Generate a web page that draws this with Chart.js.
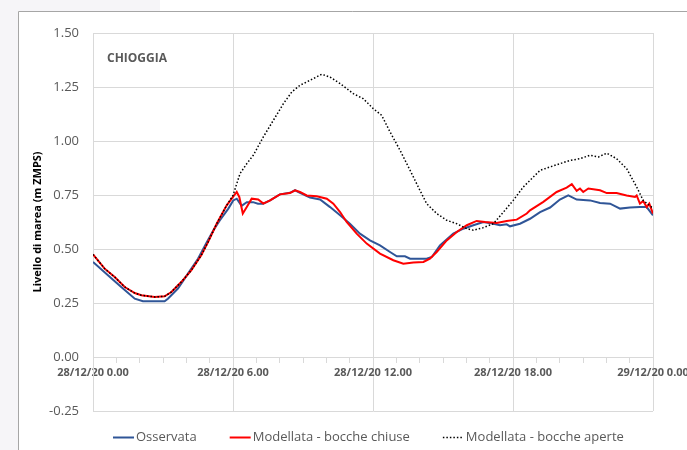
<!DOCTYPE html>
<html>
<head>
<meta charset="utf-8">
<script src="https://cdn.jsdelivr.net/npm/chart.js@4/dist/chart.umd.min.js"></script>
<style>
  html, body { margin: 0; padding: 0; background: #fff; }
  #wrap { width: 687px; height: 450px; position: relative; }
</style>
</head>
<body>
<div id="wrap"><canvas id="c" width="687" height="450"></canvas></div>
<script>
// etichette asse x (ore dall'inizio del 28/12/20)
const xLabels = { 0: '28/12/20 0.00', 6: '28/12/20 6.00', 12: '28/12/20 12.00', 18: '28/12/20 18.00', 24: '29/12/20 0.00' };
const yTicks = [-0.25, 0, 0.25, 0.5, 0.75, 1.0, 1.25, 1.5];

// Osservata
const obsHours = [0, 0.64, 1.21, 1.79, 2.14, 3.07, 3.21, 3.64, 4.07, 4.5, 4.86, 5.16, 5.44, 5.8, 6.01, 6.16, 6.37, 6.59, 6.86, 7.07, 7.29, 7.59, 8.01, 8.44, 8.66, 8.87, 9.3, 9.73, 10.16, 10.59, 11.01, 11.44, 11.87, 12.3, 12.73, 13.02, 13.37, 13.59, 14.3, 14.52, 14.87, 15.44, 15.87, 16.3, 16.73, 17.16, 17.44, 17.73, 17.87, 18.3, 18.73, 19.16, 19.59, 20.01, 20.37, 20.73, 21.3, 21.73, 22.16, 22.59, 23.01, 23.44, 23.73, 24];
const obsVals = [0.44, 0.378, 0.324, 0.27, 0.258, 0.258, 0.27, 0.317, 0.386, 0.455, 0.528, 0.587, 0.633, 0.687, 0.725, 0.733, 0.70, 0.717, 0.717, 0.71, 0.71, 0.725, 0.753, 0.76, 0.772, 0.76, 0.738, 0.729, 0.694, 0.656, 0.617, 0.571, 0.54, 0.517, 0.486, 0.466, 0.466, 0.455, 0.455, 0.463, 0.517, 0.571, 0.594, 0.61, 0.625, 0.617, 0.61, 0.614, 0.605, 0.617, 0.64, 0.671, 0.692, 0.729, 0.748, 0.729, 0.725, 0.713, 0.71, 0.687, 0.692, 0.694, 0.694, 0.656];

// Modellata - bocche chiuse
const closedHours = [0, 0.5, 0.93, 1.36, 1.79, 2.07, 2.64, 3.07, 3.36, 3.78, 4.21, 4.64, 4.93, 5.3, 5.73, 6.16, 6.27, 6.42, 6.59, 6.8, 7.08, 7.3, 7.59, 8.01, 8.44, 8.66, 8.87, 9.16, 9.59, 10.02, 10.3, 10.59, 10.87, 11.3, 11.73, 12.3, 12.87, 13.3, 13.73, 14.16, 14.44, 14.73, 15.16, 15.59, 16.02, 16.44, 16.8, 17.3, 17.73, 18.16, 18.59, 18.73, 19.3, 19.87, 20.3, 20.52, 20.73, 20.87, 21.01, 21.23, 21.73, 22.02, 22.44, 22.87, 23.23, 23.3, 23.44, 23.58, 23.73, 23.84, 24];
const closedVals = [0.475, 0.409, 0.37, 0.324, 0.296, 0.286, 0.278, 0.281, 0.301, 0.347, 0.401, 0.471, 0.532, 0.617, 0.702, 0.764, 0.741, 0.664, 0.694, 0.733, 0.729, 0.71, 0.725, 0.753, 0.759, 0.772, 0.764, 0.748, 0.744, 0.733, 0.71, 0.671, 0.625, 0.571, 0.525, 0.479, 0.448, 0.432, 0.437, 0.44, 0.455, 0.486, 0.54, 0.579, 0.61, 0.63, 0.625, 0.62, 0.63, 0.636, 0.664, 0.679, 0.718, 0.764, 0.784, 0.80, 0.769, 0.78, 0.764, 0.78, 0.772, 0.759, 0.759, 0.748, 0.741, 0.748, 0.71, 0.722, 0.694, 0.71, 0.664];

// Modellata - bocche aperte
const openHours = [0, 0.5, 0.93, 1.36, 1.79, 2.07, 2.64, 3.07, 3.36, 3.78, 4.21, 4.64, 4.93, 5.3, 5.73, 6.0, 6.3, 6.59, 6.87, 7.3, 7.73, 8.16, 8.52, 8.87, 9.3, 9.8, 10.16, 10.59, 11.16, 11.58, 12.01, 12.37, 12.73, 13.16, 13.59, 14.01, 14.3, 14.73, 15.16, 15.59, 16.02, 16.3, 16.73, 17.16, 17.59, 18.01, 18.44, 18.87, 19.16, 19.59, 20.01, 20.44, 20.87, 21.3, 21.66, 22.02, 22.44, 22.87, 23.3, 23.58, 23.94, 24];
const openVals = [0.475, 0.409, 0.37, 0.324, 0.296, 0.286, 0.278, 0.281, 0.301, 0.347, 0.401, 0.471, 0.532, 0.617, 0.702, 0.748, 0.849, 0.895, 0.934, 1.019, 1.096, 1.173, 1.227, 1.258, 1.281, 1.309, 1.296, 1.266, 1.219, 1.196, 1.15, 1.119, 1.042, 0.957, 0.864, 0.772, 0.71, 0.664, 0.633, 0.617, 0.594, 0.587, 0.599, 0.617, 0.671, 0.725, 0.787, 0.833, 0.864, 0.88, 0.895, 0.91, 0.918, 0.934, 0.926, 0.944, 0.918, 0.872, 0.787, 0.725, 0.694, 0.69];

const toXY = (hs, vs) => hs.map((h, i) => ({ x: h, y: vs[i] }));

const FONT = '"Open Sans", "Liberation Sans", sans-serif';
const GRID = '#d9d9d9';
const TXT = '#595959';

// cornice grigia dello screenshot + CHIOGGIA + legenda
const decor = {
  id: 'decor',
  beforeDraw(chart) {
    const c = chart.ctx;
    c.save();
    c.fillStyle = '#f6f5f8';
    c.fillRect(0, 0, 18, 450);
    c.fillRect(0, 0, 160, 11);
    c.strokeStyle = '#a6a6a6';
    c.lineWidth = 1;
    c.beginPath();
    c.moveTo(18.5, 450); c.lineTo(18.5, 11.5); c.lineTo(687, 11.5);
    c.stroke();
    c.restore();
  },
  afterDraw(chart) {
    const c = chart.ctx;
    c.save();
    c.fillStyle = TXT;
    c.font = 'bold 12px ' + FONT;
    c.textBaseline = 'middle';
    c.fillText('CHIOGGIA', 107, 59);
    // legenda
    c.font = '13px ' + FONT;
    let x = 113;
    const y = 437;
    chart.data.datasets.forEach(ds => {
      c.strokeStyle = ds.borderColor;
      c.lineWidth = ds.borderWidth;
      c.setLineDash(ds.borderDash || []);
      c.beginPath();
      c.moveTo(x, y + 0.5); c.lineTo(x + 21, y + 0.5);
      c.stroke();
      c.setLineDash([]);
      x += 23;
      c.fillStyle = TXT;
      c.fillText(ds.label, x, y);
      x += c.measureText(ds.label).width + 33;
    });
    c.restore();
  }
};

new Chart(document.getElementById('c'), {
  type: 'line',
  data: {
    datasets: [
      { label: 'Osservata', data: toXY(obsHours, obsVals), borderColor: '#2f5597', borderWidth: 2, pointRadius: 0, tension: 0, order: 2 },
      { label: 'Modellata - bocche chiuse', data: toXY(closedHours, closedVals), borderColor: '#ff0000', borderWidth: 2, pointRadius: 0, tension: 0, order: 1 },
      { label: 'Modellata - bocche aperte', data: toXY(openHours, openVals), borderColor: '#000000', borderWidth: 1.5, borderDash: [1.5, 2], pointRadius: 0, tension: 0, order: 0 }
    ]
  },
  options: {
    responsive: false,
    animation: false,
    layout: { padding: { left: 18, top: 33, right: 34, bottom: 39 } },
    plugins: { legend: { display: false }, tooltip: { enabled: false } },
    scales: {
      x: {
        type: 'linear',
        position: { y: 0 },
        min: 0, max: 24,
        afterFit: s => { s.paddingLeft = 0; s.paddingRight = 0; },
        grid: {
          color: ctx => (ctx.tick && ctx.tick.value % 6 === 0) ? GRID : 'rgba(0,0,0,0)',
          tickColor: GRID,
          tickLength: 5,
          lineWidth: 1
        },
        border: { color: GRID },
        ticks: {
          stepSize: 1, autoSkip: false, maxRotation: 0, padding: 4,
          color: TXT, font: { family: FONT, size: 11, weight: 'bold' },
          callback: v => xLabels[v] || ''
        }
      },
      y: {
        min: -0.25, max: 1.5,
        afterBuildTicks: s => { s.ticks = yTicks.map(v => ({ value: v })); },
        afterFit: s => { s.width = 75; },
        grid: { color: GRID, drawTicks: false },
        border: { color: GRID },
        ticks: { padding: 14, color: TXT, font: { family: FONT, size: 13 }, callback: v => v.toFixed(2) },
        title: { display: true, text: 'Livello di marea (m ZMPS)', color: '#000', font: { family: FONT, size: 11, weight: 'bold' }, padding: { top: 13, bottom: 0 } }
      }
    }
  },
  plugins: [decor]
});
</script>
</body>
</html>
